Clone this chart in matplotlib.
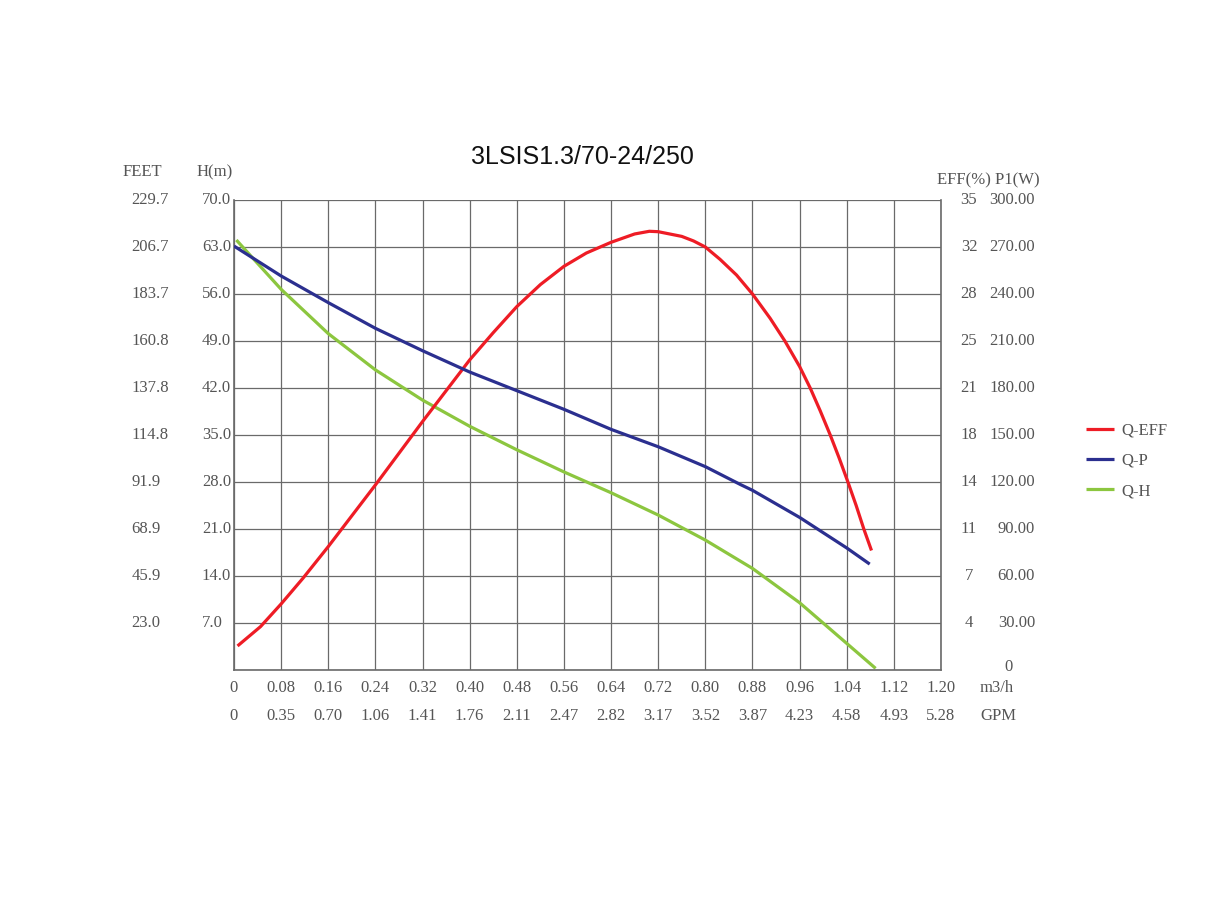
import matplotlib
matplotlib.use("Agg")
import matplotlib.pyplot as plt

# flow (m3/h) axis
q_ticks = [0, 0.08, 0.16, 0.24, 0.32, 0.40, 0.48, 0.56, 0.64, 0.72, 0.80, 0.88, 0.96, 1.04, 1.12, 1.20]
q_labels = ["0", "0.08", "0.16", "0.24", "0.32", "0.40", "0.48", "0.56", "0.64", "0.72",
            "0.80", "0.88", "0.96", "1.04", "1.12", "1.20"]
gpm_labels = ["0", "0.35", "0.70", "1.06", "1.41", "1.76", "2.11", "2.47", "2.82", "3.17",
              "3.52", "3.87", "4.23", "4.58", "4.93", "5.28"]

# head axis
h_ticks = [7.0, 14.0, 21.0, 28.0, 35.0, 42.0, 49.0, 56.0, 63.0, 70.0]
h_labels = ["7.0", "14.0", "21.0", "28.0", "35.0", "42.0", "49.0", "56.0", "63.0", "70.0"]
feet_labels = ["23.0", "45.9", "68.9", "91.9", "114.8", "137.8", "160.8", "183.7", "206.7", "229.7"]
eff_labels = ["4", "7", "11", "14", "18", "21", "25", "28", "32", "35"]
p1_labels = ["30.00", "60.00", "90.00", "120.00", "150.00", "180.00", "210.00", "240.00", "270.00", "300.00"]

# curves
q_eff = [0.006, 0.045, 0.08, 0.117, 0.16, 0.24, 0.32, 0.40, 0.44, 0.48, 0.52, 0.56, 0.598,
         0.64, 0.68, 0.705, 0.72, 0.76, 0.78, 0.80, 0.825, 0.853, 0.88, 0.91, 0.935,
         0.96, 0.978, 0.995, 1.012, 1.027, 1.042, 1.056, 1.069, 1.082]
eff = [1.79, 3.23, 4.92, 6.83, 9.19, 13.78, 18.5, 23.09, 25.12, 27.06, 28.7, 30.06, 31.05,
       31.85, 32.47, 32.67, 32.64, 32.29, 31.95, 31.5, 30.58, 29.41, 28.0, 26.19, 24.5,
       22.6, 21.0, 19.3, 17.5, 15.8, 14.0, 12.25, 10.5, 8.9]

q_p = [0.0, 0.08, 0.16, 0.24, 0.32, 0.40, 0.48, 0.56, 0.64, 0.72, 0.80, 0.86, 0.88, 0.96, 1.04, 1.079]
p1 = [270.6, 251.5, 234.5, 218.1, 203.8, 190.2, 178.3, 166.4, 153.6, 142.5, 129.8, 118.3,
      114.7, 97.4, 77.9, 67.6]

q_h = [0.004, 0.08, 0.16, 0.24, 0.32, 0.40, 0.48, 0.56, 0.64, 0.72, 0.80, 0.88, 0.96, 1.04, 1.089]
head = [64.04, 56.7, 50.1, 44.7, 40.2, 36.3, 32.8, 29.5, 26.4, 23.08, 19.35, 15.13, 10.02, 3.96, 0.24]

W, H = 1214, 899
txt = "#555555"
serif = "Liberation Serif"

fig = plt.figure(figsize=(W / 100, H / 100), dpi=100)
ax = fig.add_axes([234 / W, 1 - 670 / H, 707 / W, 470 / H])
ax.set_xlim(0, 1.2)
ax.set_ylim(0, 70)
ax.set_xticks(q_ticks)
ax.set_yticks([0] + h_ticks)
ax.tick_params(length=0, labelleft=False, labelbottom=False)
ax.grid(True, color="#6a6a6a", lw=0.9)
for s in ["left", "bottom", "right"]:
    ax.spines[s].set_color("#6a6a6a")
    ax.spines[s].set_linewidth(1.2)
ax.spines["top"].set_visible(False)

ax_eff = ax.twinx()
ax_eff.set_ylim(0, 35)
ax_p = ax.twinx()
ax_p.set_ylim(0, 300)
for a in (ax_eff, ax_p):
    a.set_yticks([])
    for s in a.spines.values():
        s.set_visible(False)

style = dict(lw=2.3, solid_joinstyle="round", solid_capstyle="butt")
l_eff, = ax_eff.plot(q_eff, eff, color="#ee1c25", label="Q-EFF", **style)
l_p, = ax_p.plot(q_p, p1, color="#2b2f8f", label="Q-P", **style)
l_h, = ax.plot(q_h, head, color="#8cc63f", label="Q-H", **style)

# side tick columns
ytr = ax.get_yaxis_transform()
for i, v in enumerate(h_ticks):
    ax.text(-0.0453, v, h_labels[i], transform=ytr, ha="left", va="center",
            fontsize=12, color=txt, family=serif)
    ax.text(-0.145, v, feet_labels[i], transform=ytr, ha="left", va="center",
            fontsize=12, color=txt, family=serif)
    ax.text(1.0396, v, eff_labels[i], transform=ytr, ha="center", va="center",
            fontsize=12, color=txt, family=serif)
    ax.text(1.133, v, p1_labels[i], transform=ytr, ha="right", va="center",
            fontsize=12, color=txt, family=serif)
ax.text(1.095, 0.006, "0", transform=ax.transAxes, ha="center", va="center",
        fontsize=12, color=txt, family=serif)

# bottom tick rows
xtr = ax.get_xaxis_transform()
for v, lab, g in zip(q_ticks, q_labels, gpm_labels):
    ax.text(v, -0.0383, lab, transform=xtr, ha="center", va="center",
            fontsize=12, color=txt, family=serif)
    ax.text(v, -0.0989, g, transform=xtr, ha="center", va="center",
            fontsize=12, color=txt, family=serif)


def ftext(x, y, s, **kw):
    fig.text(x / W, 1 - y / H, s, **kw)


ftext(980, 688, "m3/h", ha="left", va="center", fontsize=12, color=txt, family=serif)
ftext(980, 716.5, "GPM", ha="left", va="center", fontsize=12, color=txt, family=serif)
ftext(123, 172, "FEET", ha="left", va="center", fontsize=12, color=txt, family=serif)
ftext(197, 172, "H(m)", ha="left", va="center", fontsize=12, color=txt, family=serif)
ftext(937, 180.5, "EFF(%) P1(W)", ha="left", va="center", fontsize=12, color=txt, family=serif)
ftext(582, 157, "3LSIS1.3/70-24/250", ha="center", va="center", fontsize=18,
      color="#111111", family="Liberation Sans")

leg = fig.legend(handles=[l_eff, l_p, l_h], loc="center left",
                 bbox_to_anchor=(1086 / W, 1 - 461 / H), frameon=False,
                 prop={"family": serif, "size": 12}, handlelength=1.65,
                 handletextpad=0.5, labelspacing=0.85, borderpad=0, borderaxespad=0)
for t in leg.get_texts():
    t.set_color(txt)

fig.savefig("out.png", dpi=100)
